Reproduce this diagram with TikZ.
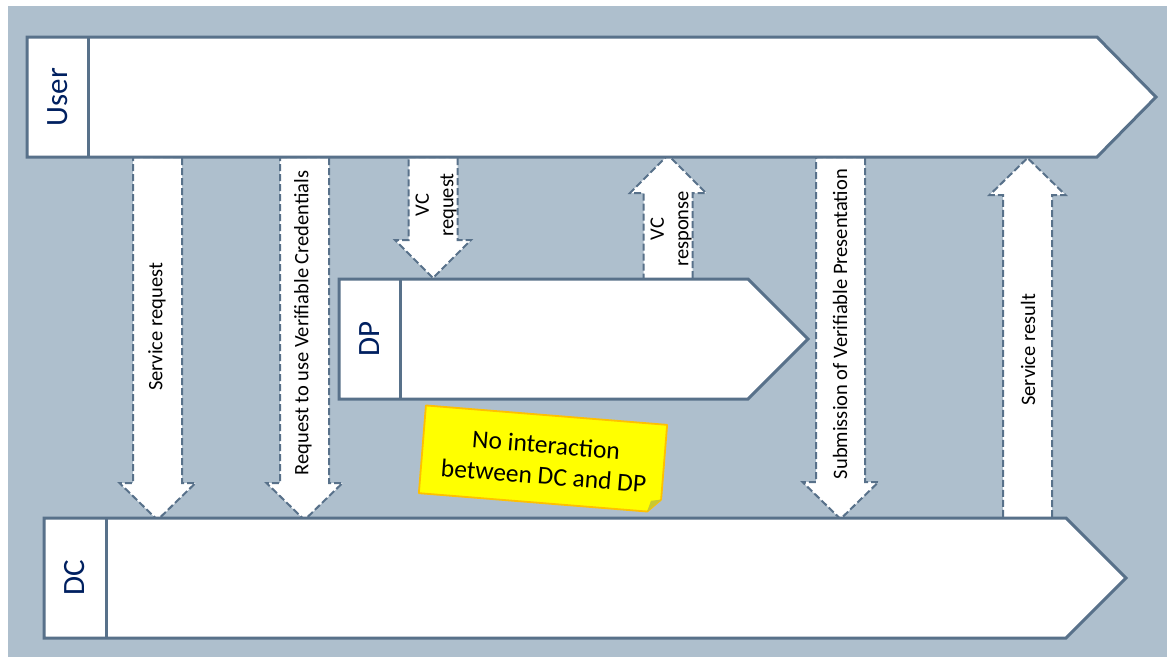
\documentclass[tikz,border=0pt]{standalone}
\usepackage{fontspec}
\setmainfont{Carlito}
\definecolor{bgc}{HTML}{AEBFCD}
\definecolor{slate}{HTML}{58718A}
\definecolor{navy}{HTML}{002060}
\definecolor{noteyellow}{HTML}{FFFF00}
\definecolor{noteborder}{HTML}{FFC000}
\definecolor{notefold}{HTML}{C8C832}
\newcommand\blockarrow[4]{%
  \draw[blk] (#1-24.5,#2) -- (#1+24.5,#2) -- (#1+24.5,#3) -- (#1+38,#3) -- (#1,#4) -- (#1-38,#3) -- (#1-24.5,#3) -- cycle;}
\begin{document}
\begin{tikzpicture}[x=1pt,y=-1pt,
  chev/.style={draw=slate, line width=3pt, fill=white, line join=miter},
  divider/.style={draw=slate, line width=3pt},
  blk/.style={draw=slate, line width=2pt, fill=white, dash pattern=on 7pt off 3pt, line join=miter},
  lbl/.style={font=\fontsize{20.5}{24.5}\selectfont, rotate=90, align=center, inner sep=0pt, text=black},
  actor/.style={font=\fontsize{31}{36}\selectfont, text=navy, rotate=90, inner sep=0pt},
  note/.style={font=\fontsize{25.5}{31}\selectfont, align=center, inner sep=0pt, text=black, transform shape}]
\useasboundingbox (0,0) rectangle (1167,657);
\fill[white] (0,0) rectangle (1167,657);
\fill[bgc] (8,6) rectangle (1167,657);

% block arrows
\blockarrow{157.5}{157}{483}{520}
\blockarrow{304.5}{157}{483}{520}
\blockarrow{433}{157}{240}{278}
\blockarrow{668}{279}{193}{155}
\blockarrow{840.5}{157}{482}{519}
\blockarrow{1027.5}{518}{195}{158}

\node[lbl] (sreq) at (157,327) {Service request};
\node[lbl] (rvc) at (303,323) {Request to use Verifiable Credentials};
\node[lbl] (vcreq) at (436,205) {VC\\request};
\node[lbl] (vcresp) at (671,229) {VC\\response};
\node[lbl] (subvp) at (840,324) {Submission of Verifiable Presentation};
\node[lbl] (sres) at (1028,350) {Service result};

% chevrons
\draw[chev] (27,37) -- (1097,37) -- (1156,97) -- (1097,157) -- (27,157) -- cycle;
\draw[divider] (88,37) -- (88,157);
\node[actor] (user) at (57.5,97) {User};

\draw[chev] (339,279) -- (748,279) -- (808,339) -- (748,399) -- (339,399) -- cycle;
\draw[divider] (400,279) -- (400,399);
\node[actor] (dp) at (369.5,339) {DP};

\draw[chev] (44,518) -- (1066,518) -- (1126,578) -- (1066,638) -- (44,638) -- cycle;
\draw[divider] (106,518) -- (106,638);
\node[actor] (dc) at (75,578) {DC};

% sticky note
\begin{scope}[shift={(543,459)}, rotate=-4.6]
  \draw[fill=noteyellow, draw=noteborder, line width=1.8pt, line join=round]
    (-121,-44) -- (121,-44) -- (121,31) -- (108,44) -- (-121,44) -- cycle;
  \fill[notefold] (121,31) -- (108,44) -- (111,33) -- cycle;
  \node[note] (nointer) at (2,1) {No interaction\\between DC and DP};
\end{scope}
\end{tikzpicture}
\end{document}
